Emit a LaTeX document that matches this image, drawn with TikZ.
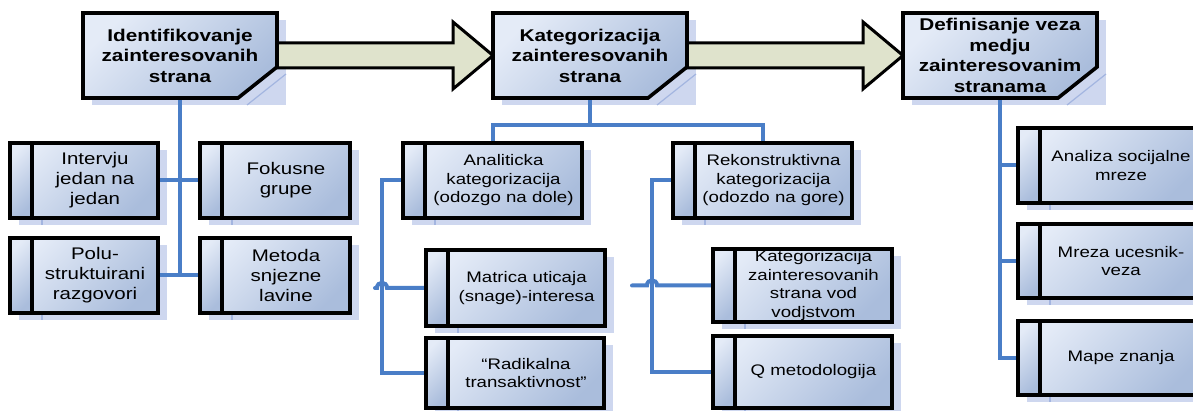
\documentclass[tikz,border=0pt]{standalone}
\usepackage{fontspec}
\setmainfont{Liberation Sans}[FakeStretch=1.22]
\usetikzlibrary{calc}
\pgfdeclarelayer{shadowlayer}
\pgfdeclarelayer{linklayer}
\pgfsetlayers{shadowlayer,linklayer,main}

\definecolor{boxlight}{HTML}{E4EBF7}
\definecolor{boxdark}{HTML}{AABDDC}
\definecolor{shadowblue}{HTML}{CED7EF}
\definecolor{shadowedge}{HTML}{A3B5E0}
\definecolor{linkblue}{HTML}{4A7EC7}
\definecolor{arrowfill}{HTML}{DFE3CC}

\tikzset{
  frame/.style={draw=black, line width=3.6pt, line join=miter,
    top color=boxlight, bottom color=boxdark, shading angle=45},
  subframe/.style={frame, rectangle, inner sep=0pt, outer sep=0pt},
  toptext/.style={rectangle, inner sep=0pt, outer sep=0pt, align=center,
    font=\bfseries\fontsize{17}{20.5}\selectfont},
  subtext/.style={align=center, inner sep=0pt, font=\fontsize{15.3}{18.5}\selectfont},
  bigtext/.style={font=\fontsize{16.8}{20}\selectfont},
  shadowfill/.style={fill=shadowblue},
  shadowline/.style={draw=shadowedge, line width=1.2pt},
  link/.style={draw=linkblue, line width=4pt},
  blockarrow/.style={draw=black, fill=arrowfill, line width=3pt, line join=miter}
}

% header box with a folded lower right corner
\newcommand\mkTop[6]{%
  \begin{pgfonlayer}{shadowlayer}
    \fill[shadowfill] (#2+9,#3+7) rectangle (#4+9,#5+7);
    \draw[shadowline] (#4-30,#5+7) -- (#4+9,#5-24);
  \end{pgfonlayer}
  \draw[frame] (#2,#3) -- (#4,#3) -- (#4,#5-31) -- (#4-39,#5) -- (#2,#5) -- cycle;
  \node[toptext, minimum width={#4-#2}, minimum height={#5-#3}, anchor=north west]
    (#1) at (#2,#3) {#6};
}

% method box with a narrow strip on its left side; #7 = extra text style
\newcommand\mkSub[7][]{%
  \begin{pgfonlayer}{shadowlayer}
    \fill[shadowfill] (#3+9,#4+7) rectangle (#5+9,#6+7);
    \draw[shadowline] (#3+32,#6+1) -- (#3+32,#6+7);
  \end{pgfonlayer}
  \node[subframe, minimum width={#5-#3}, minimum height={#6-#4}, anchor=north west]
    (#2) at (#3,#4) {};
  \draw[frame] (#3,#4) rectangle (#3+22,#6);
  \node[subtext, #1] (#2-t) at ($(#2.center)+(11,0)$) {#7};
}

\begin{document}
\begin{tikzpicture}[x=1pt, y=-1pt]
\useasboundingbox (0,0) rectangle (1193,411);

% process steps
\mkTop{t1}{83}{13}{277}{98}{Identifikovanje\\zainteresovanih\\strana}
\mkTop{t2}{493}{13}{687}{98}{Kategorizacija\\zainteresovanih\\strana}
\mkTop{t3}{903}{13}{1097}{98}{Definisanje veza\\medju\\zainteresovanim\\stranama}

% identification methods
\mkSub[bigtext]{i1}{10}{143}{158}{218}{Intervju\\jedan na\\jedan}
\mkSub[bigtext]{f1}{200}{143}{350}{218}{Fokusne\\grupe}
\mkSub[bigtext]{p1}{10}{238}{158}{313}{Polu-\\struktuirani\\razgovori}
\mkSub[bigtext]{m1}{200}{238}{350}{313}{Metoda\\snjezne\\lavine}

% categorization methods
\mkSub{a1}{403}{143}{582}{218}{Analiticka\\kategorizacija\\(odozgo na dole)}
\mkSub{r1}{673}{143}{852}{218}{Rekonstruktivna\\kategorizacija\\(odozdo na gore)}
\mkSub{mt}{426}{250}{605}{326}{Matrica uticaja\\(snage)-interesa}
\mkSub{rd}{426}{338}{604}{408}{“Radikalna\\transaktivnost”}
\mkSub{kv}{713}{249}{892}{322}{Kategorizacija\\zainteresovanih\\strana vod\\vodjstvom}
\mkSub{q1}{713}{336}{892}{408}{Q metodologija}

% relation methods
\mkSub{an}{1018}{128}{1202}{203}{Analiza socijalne\\mreze}
\mkSub{mr}{1018}{224}{1202}{298}{Mreza ucesnik-\\veza}
\mkSub{mp}{1018}{321}{1202}{395}{Mape znanja}

\begin{pgfonlayer}{linklayer}
  % block arrows between the steps
  \draw[blockarrow] ($(t1.east)+(-6,-12.5)$) -- ($(t2.west)+(-40,-12.5)$)
    -- ($(t2.west)+(-40,-33.5)$) -- (t2.west) -- ($(t2.west)+(-40,33.5)$)
    -- ($(t2.west)+(-40,12.5)$) -- ($(t1.east)+(-6,12.5)$) -- cycle;
  \draw[blockarrow] ($(t2.east)+(-6,-12.5)$) -- ($(t3.west)+(-40,-12.5)$)
    -- ($(t3.west)+(-40,-33.5)$) -- (t3.west) -- ($(t3.west)+(-40,33.5)$)
    -- ($(t3.west)+(-40,12.5)$) -- ($(t2.east)+(-6,12.5)$) -- cycle;

  % identification tree
  \draw[link] (t1.south) -- (t1.south |- p1.east);
  \draw[link] (i1.east) -- (f1.west);
  \draw[link] (p1.east) -- (m1.west);

  % categorization tree
  \coordinate (kbus) at ($(t2.south)+(0,27)$);
  \draw[link] (t2.south) -- (kbus);
  \draw[link] (a1.north) |- (kbus) -| (r1.north);
  \draw[link] (a1.west) -- ++(-21,0) coordinate (ahop) |- (rd.west);
  \draw[link, line cap=round] ($(ahop |- mt.west)+(-7,0)$) -- ($(ahop |- mt.west)+(-5,0)$)
    .. controls ($(ahop |- mt.west)+(-5,-7)$) and ($(ahop |- mt.west)+(5,-7)$)
    .. ($(ahop |- mt.west)+(5,0)$) -- (mt.west);
  \draw[link] (r1.west) -- ++(-21,0) coordinate (rhop) |- (q1.west);
  \draw[link, line cap=round] ($(rhop |- kv.west)+(-20,0)$) -- ($(rhop |- kv.west)+(-5,0)$)
    .. controls ($(rhop |- kv.west)+(-5,-7)$) and ($(rhop |- kv.west)+(5,-7)$)
    .. ($(rhop |- kv.west)+(5,0)$) -- (kv.west);

  % relation tree
  \draw[link] (t3.south) |- (mp.west);
  \draw[link] (t3.south |- an.west) -- (an.west);
  \draw[link] (t3.south |- mr.west) -- (mr.west);
\end{pgfonlayer}
\end{tikzpicture}
\end{document}
